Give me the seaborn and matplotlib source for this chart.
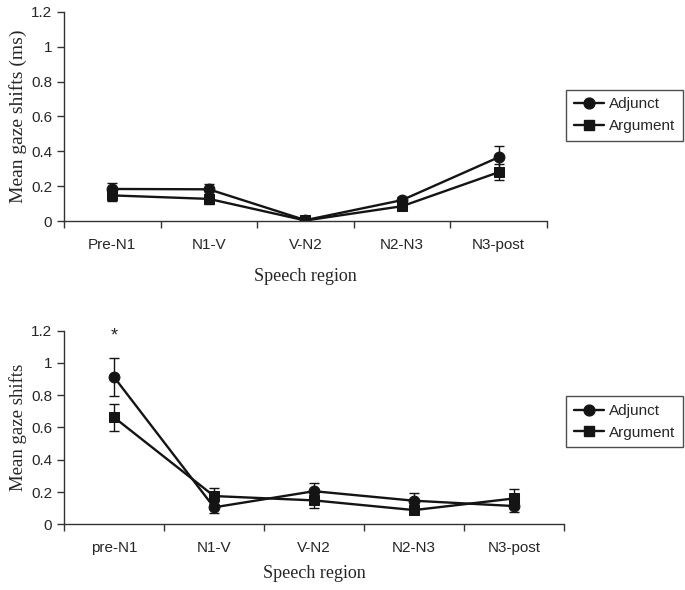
import numpy as np
import pandas as pd
import matplotlib
matplotlib.use("Agg")
import matplotlib.pyplot as plt
from matplotlib.lines import Line2D
import seaborn as sns

# top panel (ms)
regions_top = ["Pre-N1", "N1-V", "V-N2", "N2-N3", "N3-post"]
adjunct_top = [0.184, 0.182, 0.005, 0.12, 0.366]
adjunct_top_err = [0.035, 0.03, 0.01, 0.02, 0.065]
argument_top = [0.147, 0.127, 0.003, 0.085, 0.28]
argument_top_err = [0.03, 0.03, 0.01, 0.015, 0.045]

# bottom panel (count)
regions_bot = ["pre-N1", "N1-V", "V-N2", "N2-N3", "N3-post"]
adjunct_bot = [0.913, 0.105, 0.205, 0.146, 0.113]
adjunct_bot_err = [0.12, 0.035, 0.05, 0.045, 0.04]
argument_bot = [0.663, 0.175, 0.148, 0.088, 0.16]
argument_bot_err = [0.085, 0.05, 0.05, 0.02, 0.058]

conditions = ["Adjunct", "Argument"]

sns.set_style("white")
plt.rcParams["font.family"] = ["Liberation Sans", "DejaVu Sans"]
serif = "Liberation Serif"
INK = "#141414"


def draw_panel(ax, regions, adj, adj_err, arg, arg_err, ylabel, ylabel_size, xpad):
    x = np.arange(len(regions))
    df = pd.DataFrame({
        "x": np.concatenate([x, x]),
        "value": adj + arg,
        "condition": ["Adjunct"] * len(x) + ["Argument"] * len(x),
    })
    sns.lineplot(data=df, x="x", y="value", style="condition", ax=ax,
                 markers={"Adjunct": "o", "Argument": "s"}, dashes=False,
                 color=INK, linewidth=1.7, markersize=7.8,
                 markeredgecolor=INK, legend=False)
    ax.errorbar(x, adj, yerr=adj_err, fmt="none", ecolor=INK,
                elinewidth=1, capsize=3.5, capthick=1)
    ax.errorbar(x, arg, yerr=arg_err, fmt="none", ecolor=INK,
                elinewidth=1, capsize=3.5, capthick=1)

    ax.set_xlim(-0.5, len(regions) - 0.5)
    ax.set_ylim(0, 1.2)
    ax.set_yticks([0, 0.2, 0.4, 0.6, 0.8, 1.0, 1.2])
    ax.set_yticklabels(["0", "0.2", "0.4", "0.6", "0.8", "1", "1.2"])
    ax.set_xticks(np.arange(len(regions) + 1) - 0.5)
    ax.set_xticklabels([])
    ax.set_xticks(x, minor=True)
    ax.set_xticklabels(regions, minor=True)
    ax.tick_params(axis="x", which="major", length=5, width=1, direction="out",
                   bottom=True, color="#333333")
    ax.tick_params(axis="x", which="minor", length=0, pad=12, labelsize=11)
    ax.tick_params(axis="y", length=5, width=1, direction="out", left=True,
                   labelsize=11, color="#333333")
    for s in ["top", "right"]:
        ax.spines[s].set_visible(False)
    for s in ["left", "bottom"]:
        ax.spines[s].set_color("#333333")
        ax.spines[s].set_linewidth(1)
    ax.set_xlabel("Speech region", fontfamily=serif, fontsize=13, labelpad=xpad)
    ax.set_ylabel(ylabel, fontfamily=serif, fontsize=ylabel_size, labelpad=3)


fig = plt.figure(figsize=(6.85, 5.9), dpi=100)
ax1 = fig.add_axes([0.0934, 0.6254, 0.705, 0.3543])
ax2 = fig.add_axes([0.0934, 0.1114, 0.730, 0.3281])

draw_panel(ax1, regions_top, adjunct_top, adjunct_top_err, argument_top,
           argument_top_err, "Mean gaze shifts (ms)", 14, 12)
draw_panel(ax2, regions_bot, adjunct_bot, adjunct_bot_err, argument_bot,
           argument_bot_err, "Mean gaze shifts", 13.5, 7)

ax2.text(0, 1.165, "*", ha="center", va="center", fontsize=13)

handles = [Line2D([0], [0], color=INK, lw=1.7, marker=m, markersize=7.8)
           for m in ["o", "s"]]
for ypos in [0.805, 0.285]:
    leg = fig.legend(handles, conditions, loc="center left",
                     bbox_to_anchor=(0.815, ypos), frameon=True, fancybox=False,
                     edgecolor="#222222", fontsize=11, handlelength=2.0,
                     handletextpad=0.3, borderpad=0.5, labelspacing=0.5)
    leg.get_frame().set_linewidth(1)

fig.savefig("out.png", dpi=100)
